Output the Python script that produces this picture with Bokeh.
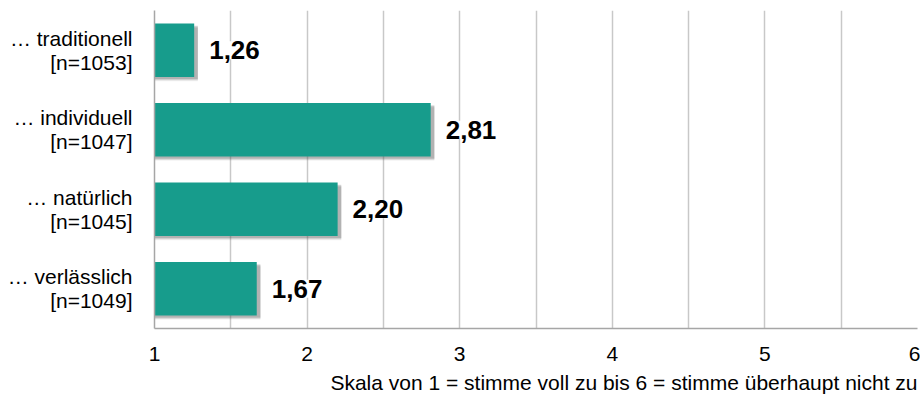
from bokeh.plotting import figure
from bokeh.models import (ColumnDataSource, FactorRange, Range1d, FixedTicker,
                          LabelSet, Title)
from bokeh.core.properties import value
from bokeh.transform import dodge
from bokeh.embed import file_html
from bokeh.resources import INLINE

# ---- data ----
items = ["… traditionell", "… individuell", "… natürlich", "… verlässlich"]
n_values = [1053, 1047, 1045, 1049]
means = [1.26, 2.81, 2.20, 1.67]
value_labels = ["1,26", "2,81", "2,20", "1,67"]
x_ticks = [1, 2, 3, 4, 5, 6]
grid_ticks = [1, 1.5, 2, 2.5, 3, 3.5, 4, 4.5, 5, 5.5, 6]
scale_note = "Skala von 1 = stimme voll zu bis 6 = stimme überhaupt nicht zu"

cats = [f"{a}\n[n={n}]" for a, n in zip(items, n_values)]

src = ColumnDataSource(dict(cat=cats, val=means, lab=value_labels,
                            base=[1] * len(means)))
shadow_src = ColumnDataSource(dict(cat=cats, val=[m + 0.024 for m in means],
                                   base=[1.0] * len(means)))

FONT = "Liberation Sans"
TEAL = "#179C8C"

p = figure(width=920, height=398, output_backend="svg", toolbar_location=None,
           y_range=FactorRange(factors=cats[::-1], range_padding=0),
           x_range=Range1d(1, 6),
           min_border_left=154, min_border_right=3, min_border_top=10,
           min_border_bottom=70)
p.outline_line_color = None
p.background_fill_color = "white"
p.border_fill_color = "white"

# soft drop shadows (several layers)
for off, alpha in [(0.055, 0.07), (0.045, 0.11), (0.035, 0.16), (0.028, 0.20)]:
    p.hbar(y=dodge("cat", -off, range=p.y_range), left="base", right="val",
           height=0.67, source=shadow_src, fill_color="#555555",
           fill_alpha=alpha, line_color=None)

p.hbar(y="cat", left="base", right="val", height=0.67, source=src,
       fill_color=TEAL, line_color=None)

labels = LabelSet(x="val", y="cat", text="lab", source=src, x_offset=15,
                  y_offset=0, text_align="left", text_baseline="middle",
                  text_font=value(FONT), text_font_size="26px",
                  text_font_style="bold", text_color="black",
                  background_fill_color="white", background_fill_alpha=1.0)
p.add_layout(labels)

# x axis
p.xaxis.ticker = FixedTicker(ticks=x_ticks)
p.xgrid.ticker = FixedTicker(ticks=grid_ticks)
p.xgrid.grid_line_color = "#C8C8C8"
p.xgrid.grid_line_width = 1.5
p.xaxis.axis_line_color = "#A6A6A6"
p.xaxis.axis_line_width = 1.5
p.xaxis.major_tick_line_color = None
p.xaxis.minor_tick_line_color = None
p.xaxis.major_label_text_font = FONT
p.xaxis.major_label_text_font_size = "21px"
p.xaxis.major_label_text_color = "black"
p.xaxis.major_label_standoff = 12

# y axis
p.ygrid.grid_line_color = None
p.yaxis.axis_line_color = "#A6A6A6"
p.yaxis.axis_line_width = 1.5
p.yaxis.major_tick_line_color = None
p.yaxis.minor_tick_line_color = None
p.yaxis.major_label_text_font = FONT
p.yaxis.major_label_text_font_size = "21px"
p.yaxis.major_label_text_line_height = 1.05
p.yaxis.major_label_text_color = "black"
p.yaxis.major_label_standoff = 16

note = Title(text=scale_note, align="right", text_font=FONT,
             text_font_size="21px", text_font_style="normal",
             text_color="black", offset=0)
p.add_layout(note, "below")

open("out.html", "w").write(file_html(p, INLINE))
